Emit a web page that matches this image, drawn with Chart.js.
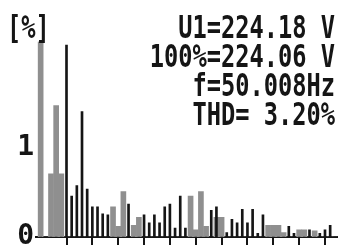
<!DOCTYPE html>
<html>
<head>
<meta charset="utf-8">
<script src="https://cdn.jsdelivr.net/npm/chart.js@4.4.1/dist/chart.umd.min.js"></script>
<style>
  html, body { margin: 0; padding: 0; background: #fff; }
  #wrap { width: 340px; height: 245px; position: relative; }
</style>
</head>
<body>
<div id="wrap"><canvas id="spectrum"></canvas></div>
<script>
// harmonic order on the x axis
const ORDERS = [0, 1, 2, 3, 4, 5, 6, 7, 8, 9, 10, 11, 12, 13, 14, 15, 16, 17, 18, 19,
  20, 21, 22, 23, 24, 25, 26, 27, 28, 29, 30, 31, 32, 33, 34, 35, 36, 37, 38, 39,
  40, 41, 42, 43, 44, 45, 46, 47, 48, 49, 50, 51, 52, 53, 54, 55, 56, 57];

// thin black bars [%]
const HARMONICS = [0, 0, 0, 0, 0, 2.16, 0.46, 0.58, 1.41, 0.54, 0.34, 0.34, 0.26, 0.25, 0, 0, 0, 0.37, 0, 0,
  0.25, 0.16, 0.25, 0.16, 0.34, 0.37, 0.10, 0.46, 0.10, 0, 0, 0, 0, 0.30, 0.34, 0, 0.05, 0.20, 0.16, 0.31,
  0.16, 0.31, 0.04, 0.25, 0, 0, 0, 0, 0.12, 0.04, 0, 0, 0.08, 0, 0.04, 0.08, 0.13, 0];

// wide grey bars [%]
const GREY_BARS = [2.2, 0, 0.71, 1.48, 0.71, 0, 0, 0, 0, 0, 0, 0, 0, 0, 0.34, 0.12, 0.51, 0, 0.13, 0.22,
  0, 0, 0, 0, 0, 0, 0, 0, 0, 0.46, 0.08, 0.51, 0.12, 0, 0.22, 0.22, 0, 0, 0, 0,
  0, 0, 0, 0, 0.13, 0.13, 0.13, 0.05, 0, 0, 0.08, 0.08, 0, 0.07, 0, 0, 0, 0];

const Y_LABELS = { 0: "0", 1: "1" };
const UNIT = "[%]";
const READOUT = ["U1=224.18 V", "100%=224.06 V", "f=50.008Hz", "THD= 3.20%"];

const INK = "#151515";
const GREY = "#8f8f8f";
const SQUEEZE = 0.74;

// ---------- READOUT TEXT ----------
const readoutPlugin = {
  id: "readout",
  afterDraw(chart) {
    const ctx = chart.ctx;
    ctx.save();
    ctx.font = 'bold 32px "DejaVu Sans Mono", monospace';
    ctx.fillStyle = INK;
    ctx.textBaseline = "alphabetic";
    ctx.scale(SQUEEZE, 1);
    ctx.textAlign = "left";
    ctx.fillText(UNIT, 7 / SQUEEZE, 38);
    ctx.textAlign = "right";
    READOUT.forEach((line, i) => ctx.fillText(line, 335 / SQUEEZE, 38 + i * 29));
    ctx.restore();
  }
};

// ---------- CHART ----------
new Chart(document.getElementById("spectrum"), {
  type: "bar",
  data: {
    datasets: [
      {
        data: ORDERS.map((h, i) => ({ x: h, y: HARMONICS[i] })),
        backgroundColor: INK,
        barThickness: 2,
        grouped: false
      },
      {
        data: ORDERS.map((h, i) => ({ x: h, y: GREY_BARS[i] })),
        backgroundColor: GREY,
        barThickness: 5,
        grouped: false
      }
    ]
  },
  options: {
    responsive: true,
    maintainAspectRatio: false,
    animation: false,
    layout: { padding: { left: 0, right: 2.6, top: 41.5, bottom: 0 } },
    plugins: { legend: { display: false }, tooltip: { enabled: false } },
    scales: {
      x: {
        type: "linear",
        offset: false,
        min: -0.9,
        max: 57.4,
        border: { display: true, color: INK, width: 2 },
        grid: {
          offset: false,
          drawOnChartArea: false,
          drawTicks: true,
          tickLength: 8,
          lineWidth: 2,
          color: c => (c.tick && c.tick.value > 0 ? INK : "rgba(0,0,0,0)")
        },
        ticks: { display: false, stepSize: 5, includeBounds: false }
      },
      y: {
        min: 0,
        max: 2.2,
        border: { display: false },
        grid: { display: false },
        afterFit: s => { s.width = 36; s.paddingTop = 0; s.paddingBottom = 0; },
        ticks: {
          stepSize: 1,
          includeBounds: false,
          padding: -6,
          color: INK,
          font: { family: "DejaVu Sans Mono", size: 28, weight: "bold" },
          callback: v => Y_LABELS[v] || ""
        }
      }
    }
  },
  plugins: [readoutPlugin]
});
</script>
</body>
</html>
